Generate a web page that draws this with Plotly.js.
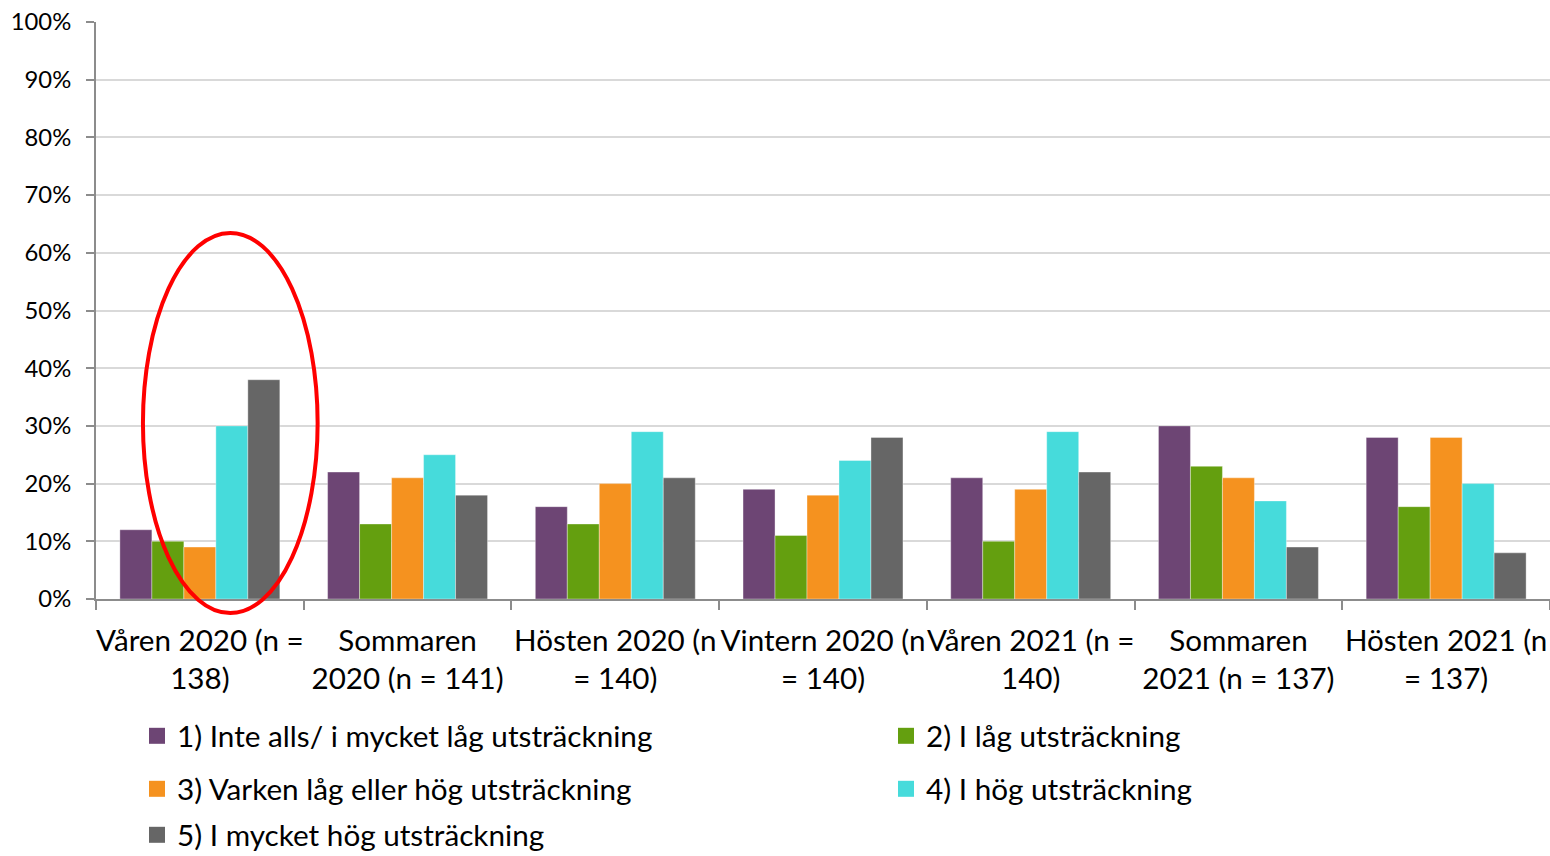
<!DOCTYPE html>
<html>
<head>
<meta charset="utf-8">
<script src="https://cdn.plot.ly/plotly-3.0.1.min.js"></script>
<style>html,body{margin:0;padding:0;background:#fff;}#chart{width:1550px;height:856px;}</style>
</head>
<body>
<div id="chart"></div>
<script>
const categories = [
  "Våren 2020 (n =<br>138)",
  "Sommaren<br>2020 (n = 141)",
  "Hösten 2020 (n<br>= 140)",
  "Vintern 2020 (n<br>= 140)",
  "Våren 2021 (n =<br>140)",
  "Sommaren<br>2021 (n = 137)",
  "Hösten 2021 (n<br>= 137)"
];
const seriesNames = [
  "1) Inte alls/ i mycket låg utsträckning",
  "2) I låg utsträckning",
  "3) Varken låg eller hög utsträckning",
  "4) I hög utsträckning",
  "5) I mycket hög utsträckning"
];
const s1 = [12, 22, 16, 19, 21, 30, 28];
const s2 = [10, 13, 13, 11, 10, 23, 16];
const s3 = [9, 21, 20, 18, 19, 21, 28];
const s4 = [30, 25, 29, 24, 29, 17, 20];
const s5 = [38, 18, 21, 28, 22, 9, 8];
const seriesValues = [s1, s2, s3, s4, s5];
const colors = ["#6d4574", "#649f0f", "#f5921f", "#46dbdb", "#666666"];

const FONT = "Lato, sans-serif";
const legendIds = ["legend", "legend2", "legend3", "legend4", "legend5"];
const barTraces = seriesValues.map((vals, i) => ({
  type: "bar",
  name: seriesNames[i],
  x: categories,
  y: vals,
  marker: {color: colors[i], line: {color: "rgba(255,255,255,0.6)", width: 0.6}},
  showlegend: false,
  hoverinfo: "name+y"
}));
// legend entries (square swatches like the original)
const legendTraces = seriesNames.map((nm, i) => ({
  type: "scatter", mode: "markers",
  name: nm, x: [null], y: [null],
  marker: {color: colors[i], symbol: "square", size: 16},
  legend: legendIds[i], showlegend: true, hoverinfo: "skip"
}));

const W = 1454, H = 577, L = 96, T = 22, FH = 856;
function cy(y) { return 1 - y / FH; }
function cx(x) { return x / 1550; }
const legendFont = {family: FONT, size: 29.7, color: "#000"};
function mkLegend(x, y) {
  return {x: cx(x), y: cy(y), xref: "container", yref: "container",
          xanchor: "left", yanchor: "middle", orientation: "h",
          bgcolor: "rgba(0,0,0,0)", font: legendFont, borderwidth: 0};
}

const layout = {
  width: 1550, height: 856,
  margin: {l: L, r: 0, t: T, b: FH - T - H, pad: 0, autoexpand: false},
  paper_bgcolor: "#fff", plot_bgcolor: "#fff",
  barmode: "group",
  bargap: 0.23, bargroupgap: 0,
  font: {family: FONT, color: "#000"},
  xaxis: {
    type: "category",
    tickson: "boundaries",
    ticks: "outside", ticklen: 9, tickcolor: "#8c8c8c", tickwidth: 2,
    showline: true, linecolor: "#8c8c8c", linewidth: 2,
    showgrid: false,
    tickfont: {family: FONT, size: 29.6, color: "#000"},
    ticklabelstandoff: 14,
    tickangle: 0,
    automargin: false
  },
  yaxis: {
    range: [0, 100], dtick: 10, ticksuffix: "%",
    ticks: "outside", ticklen: 8, tickcolor: "#8c8c8c", tickwidth: 2,
    showline: true, linecolor: "#8c8c8c", linewidth: 2,
    showgrid: true, gridcolor: "#d9d9d9", gridwidth: 2,
    zeroline: false,
    tickfont: {family: FONT, size: 23.8, color: "#000"},
    ticklabelstandoff: 10,
    automargin: false
  },
  showlegend: true,
  legend: mkLegend(137, 736),
  legend2: mkLegend(886, 736),
  legend3: mkLegend(137, 789),
  legend4: mkLegend(886, 789),
  legend5: mkLegend(137, 835),
  shapes: [{
    type: "circle", xref: "x", yref: "paper",
    x0: -0.274, x1: 0.567, y0: (T + H - 613) / H, y1: (T + H - 233) / H,
    line: {color: "#ff0000", width: 4}, layer: "above"
  }]
};

Plotly.newPlot("chart", barTraces.concat(legendTraces), layout, {displayModeBar: false, staticPlot: true});
</script>
</body>
</html>
